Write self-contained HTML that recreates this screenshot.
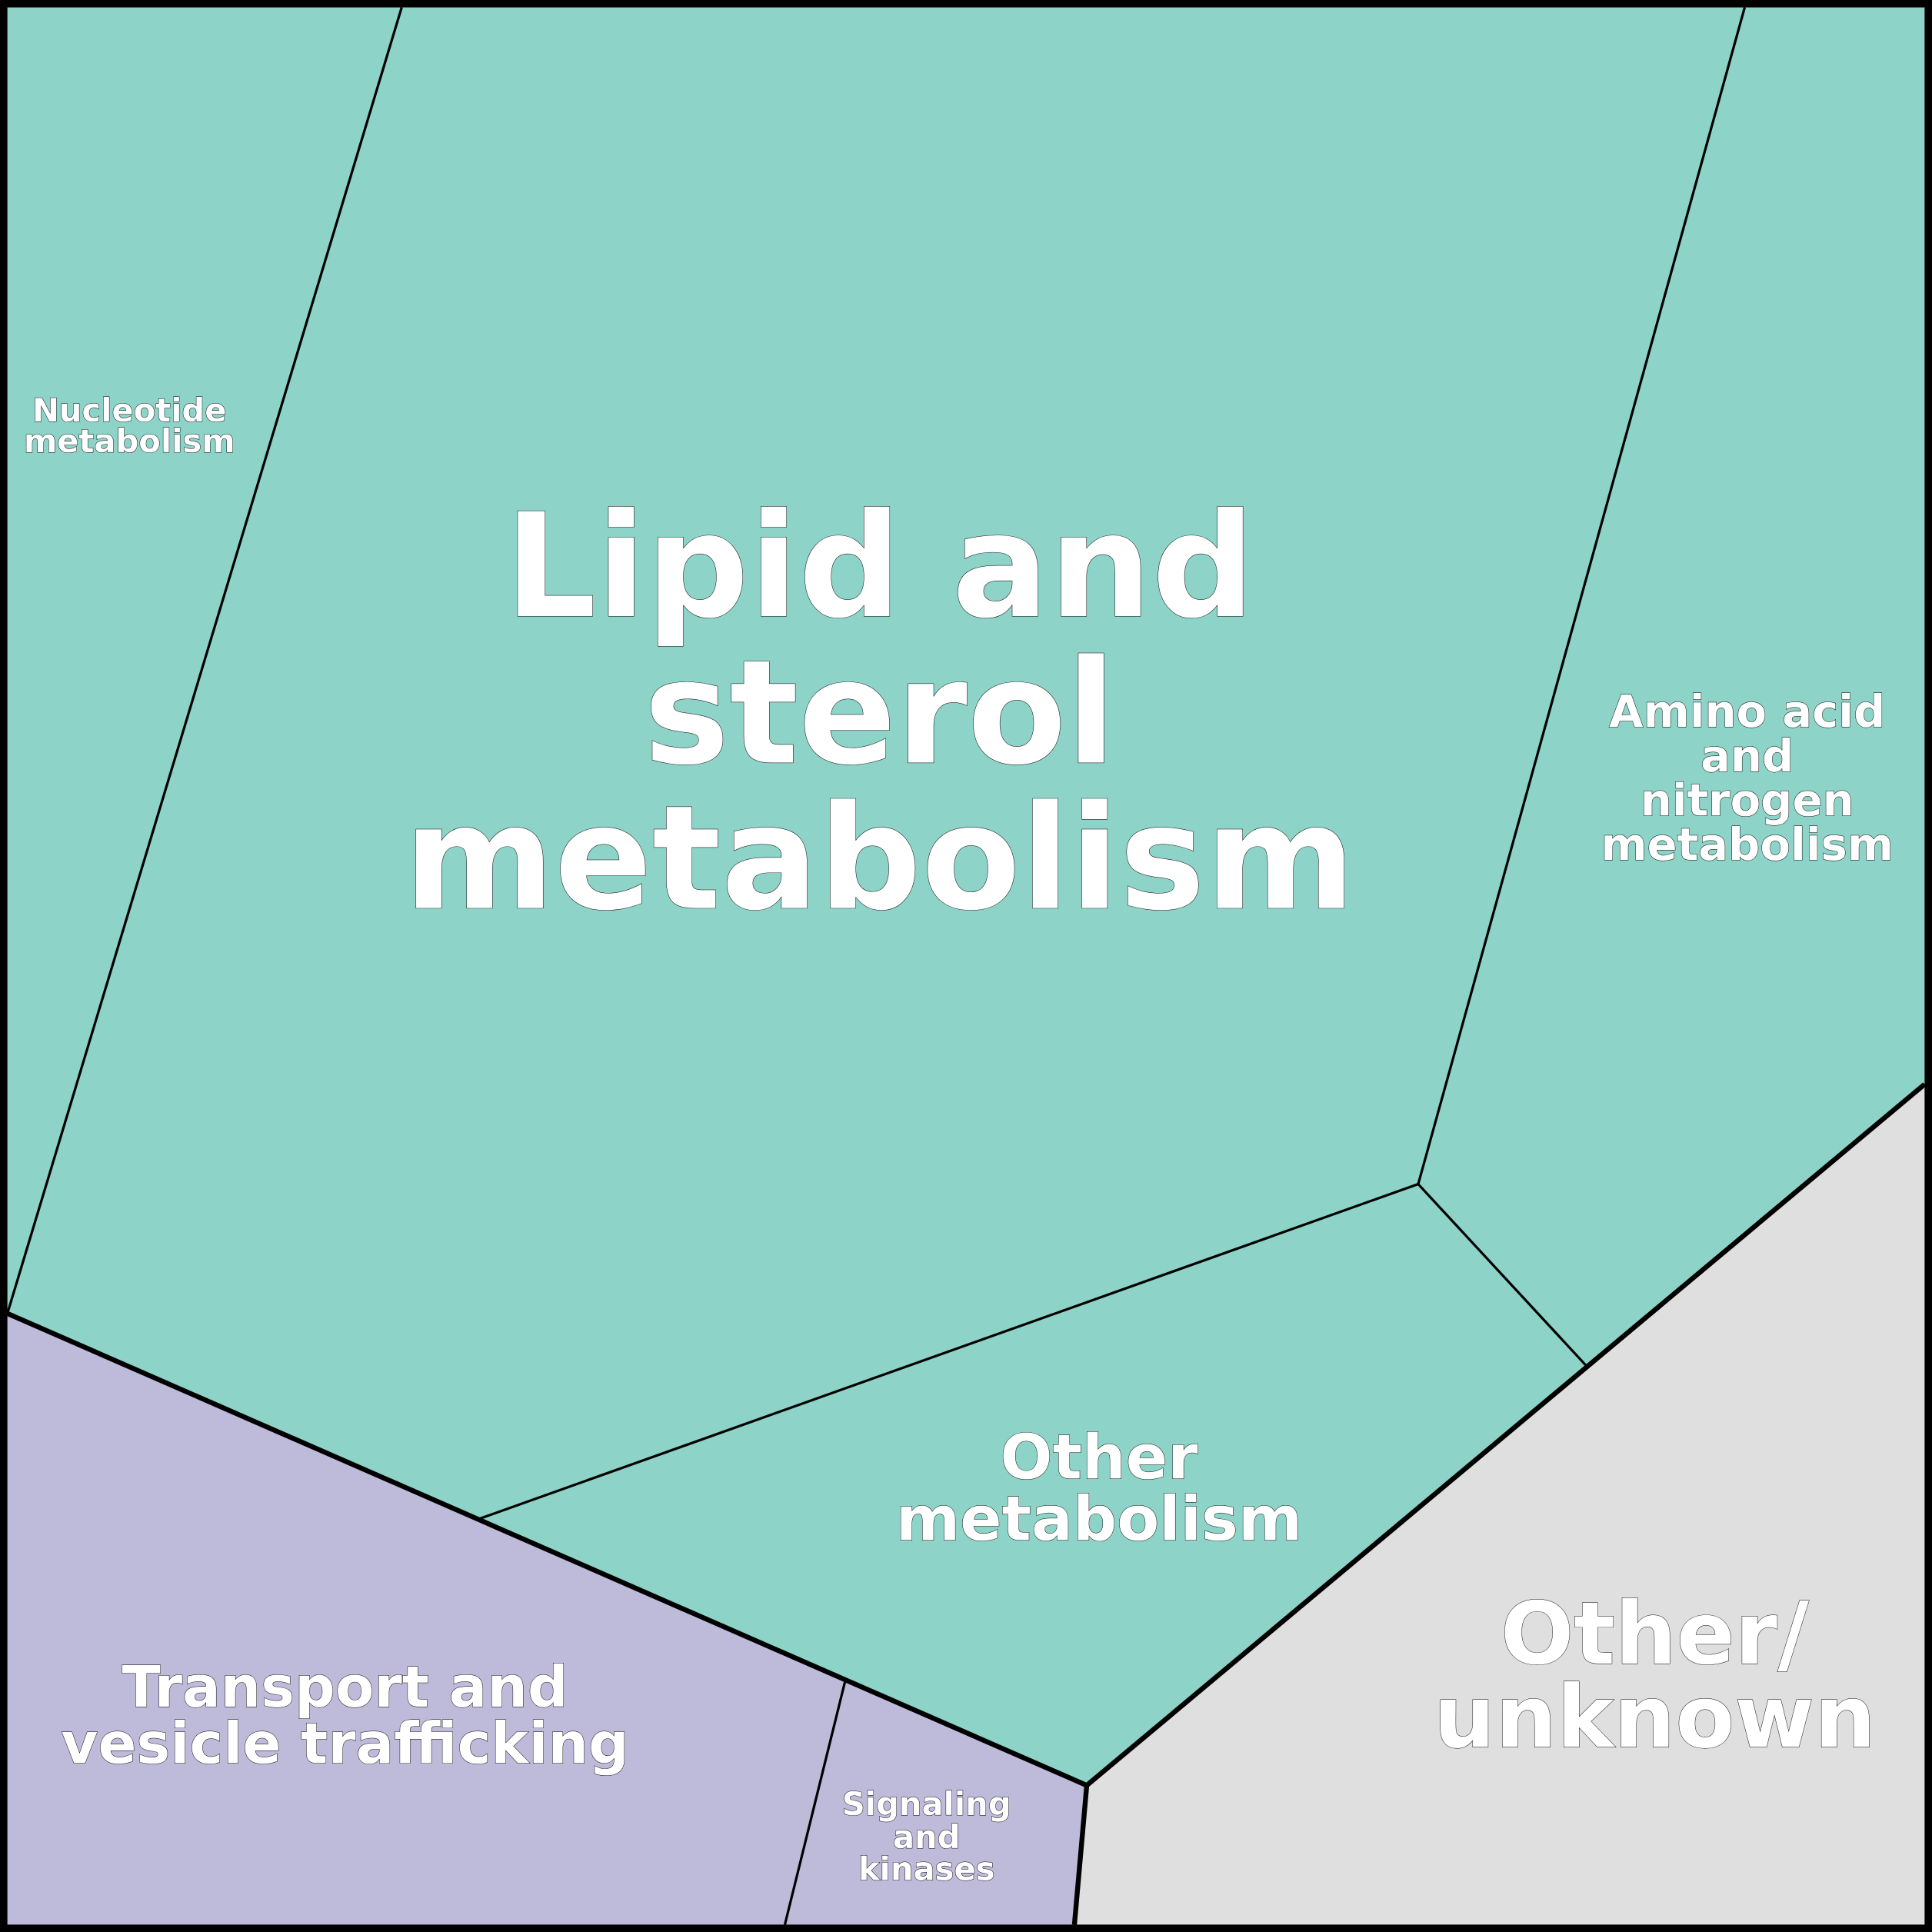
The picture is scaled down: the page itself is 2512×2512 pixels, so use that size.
<!DOCTYPE html>
<html><head><meta charset="utf-8"><style>html,body{margin:0;padding:0;background:#fff}svg{display:block}</style></head>
<body>
<svg width="2512" height="2512" viewBox="0 0 1568 1568" xmlns="http://www.w3.org/2000/svg">
<rect x="0" y="0" width="1568" height="1568" fill="#8dd3c7"/>
<polygon points="6,1066 882,1449 872,1562 6,1562" fill="#bebada"/>
<polygon points="882,1449 1562,880 1562,1562 872,1562" fill="#dfdfdf"/>
<g stroke="#000" stroke-width="2" fill="none">
<line x1="326" y1="6" x2="6" y2="1066"/>
<line x1="1416" y1="6" x2="1151" y2="961"/>
<line x1="1151" y1="961" x2="388" y2="1233"/>
<line x1="1151" y1="961" x2="1287" y2="1108"/>
<line x1="686" y1="1364" x2="637" y2="1562"/>
</g>
<g stroke="#000" stroke-width="4" fill="none">
<polyline points="6,1066 882,1449 1562,880"/>
<line x1="882" y1="1449" x2="872" y2="1562"/>
</g>
<rect x="3" y="3" width="1562" height="1562" fill="none" stroke="#000" stroke-width="6"/>
<g font-family="DejaVu Sans, Liberation Sans, sans-serif" font-weight="bold" fill="#fff" stroke="#000" stroke-width="0.6" text-anchor="middle" paint-order="stroke">
<g font-size="117"><text x="714" y="500">Lipid and</text><text x="714" y="619">sterol</text><text x="714" y="737">metabolism</text></g>
<g font-size="26"><text x="105" y="342">Nucleotide</text><text x="105" y="367">metabolism</text></g>
<g font-size="36"><text x="1418" y="590">Amino acid</text><text x="1418" y="626">and</text><text x="1418" y="662">nitrogen</text><text x="1418" y="698">metabolism</text></g>
<g font-size="50"><text x="892" y="1200">Other</text><text x="892" y="1250">metabolism</text></g>
<g font-size="46"><text x="280" y="1385">Transport and</text><text x="280" y="1431">vesicle trafficking</text></g>
<g font-size="26"><text x="752" y="1473">Signaling</text><text x="752" y="1500">and</text><text x="752" y="1526">kinases</text></g>
<g font-size="70"><text x="1343" y="1350">Other/</text><text x="1343" y="1418">unknown</text></g>
</g>
</svg>
</body></html>
